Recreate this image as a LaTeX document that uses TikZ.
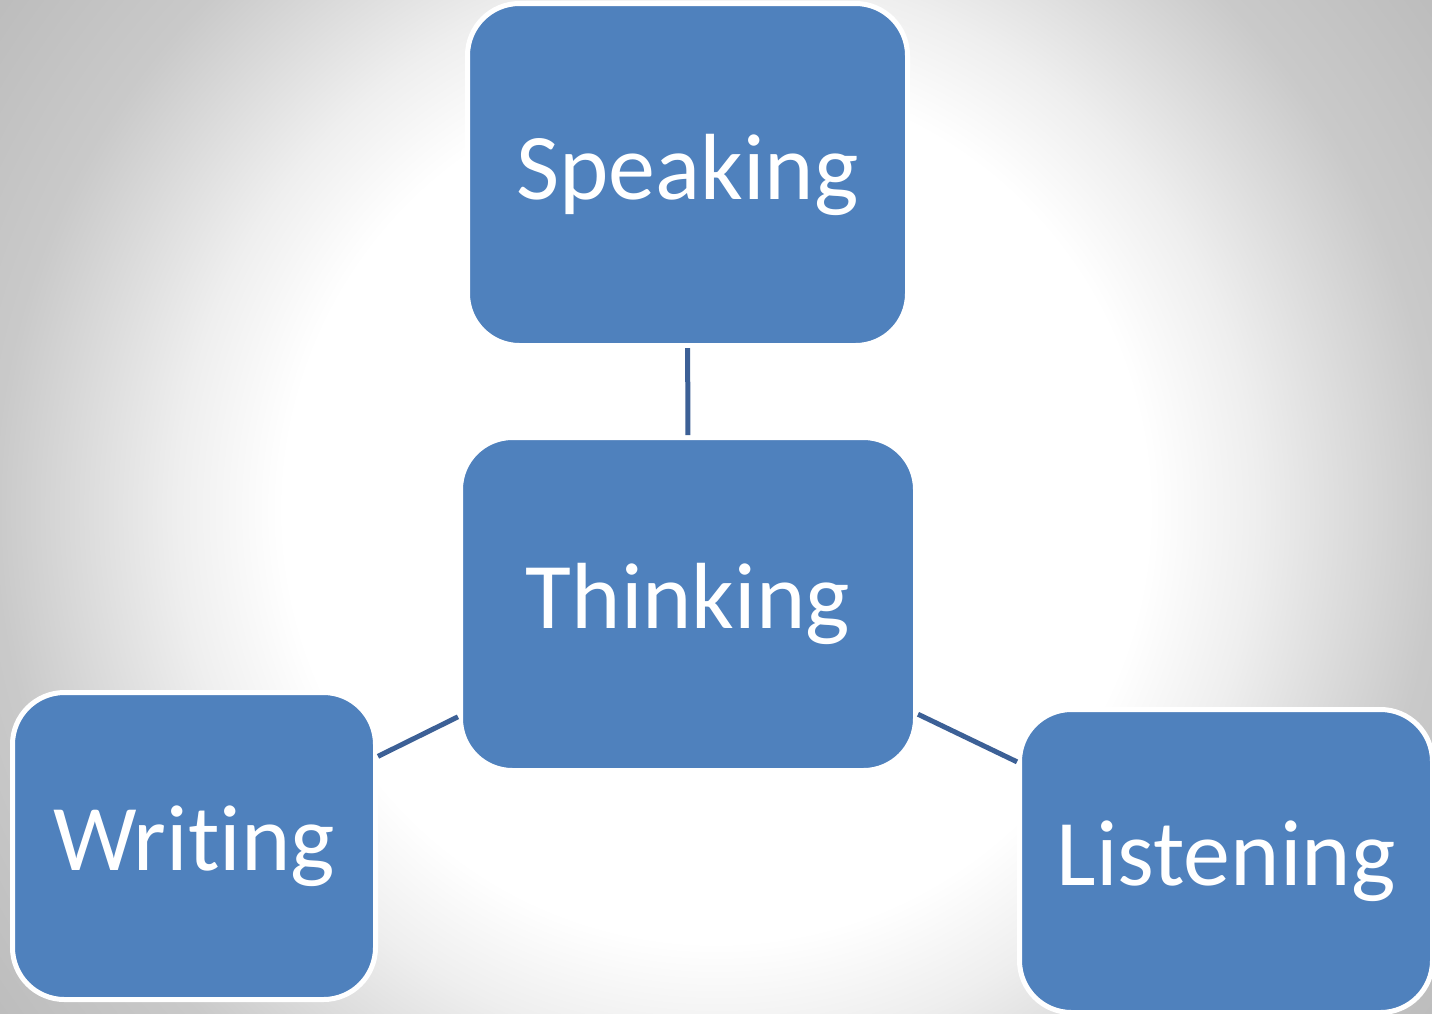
\documentclass[tikz,border=0pt]{standalone}
\usepackage{fontspec}
\setmainfont{Carlito}[Ligatures=NoCommon]
\definecolor{boxblue}{HTML}{4F81BD}
\definecolor{linkblue}{HTML}{3C6096}
\definecolor{bgA}{rgb}{0.935,0.935,0.935}
\definecolor{bgB}{rgb}{0.79,0.79,0.79}
\definecolor{bgC}{rgb}{0.74,0.74,0.74}
\pgfdeclareradialshading{bgshade}{\pgfpoint{0bp}{0bp}}{color(0bp)=(white); color(12bp)=(white); color(15bp)=(bgA); color(20bp)=(bgB); color(24.4bp)=(bgC); color(50bp)=(bgC)}
\begin{document}
\begin{tikzpicture}[x=1pt,y=-1pt,
  box/.style={draw=white, line width=5pt, fill=boxblue, rounded corners=52pt,
    inner sep=0pt, text=white, font=\fontsize{94}{110}\selectfont},
  link/.style={draw=linkblue, line width=5pt}]
\useasboundingbox (0,0) rectangle (1432,1013);
\begin{scope}
\clip (0,0) rectangle (1432,1013);
\shade[shading=bgshade] (-184,-390) rectangle (1616,1410);
\end{scope}
\node[box, minimum width=440pt, minimum height=342pt] (speaking) at (687.5,174.5) {Speaking};
\node[box, minimum width=455pt, minimum height=333pt] (thinking) at (688,604) {Thinking};
\node[box, minimum width=363pt, minimum height=307pt] (writing) at (194,846) {Writing};
\node[box, minimum width=413pt, minimum height=303pt] (listening) at (1226,861) {Listening};
\draw[link] (speaking) -- (thinking);
\draw[link] (thinking) -- (writing);
\draw[link] (thinking) -- (listening);
\end{tikzpicture}
\end{document}
